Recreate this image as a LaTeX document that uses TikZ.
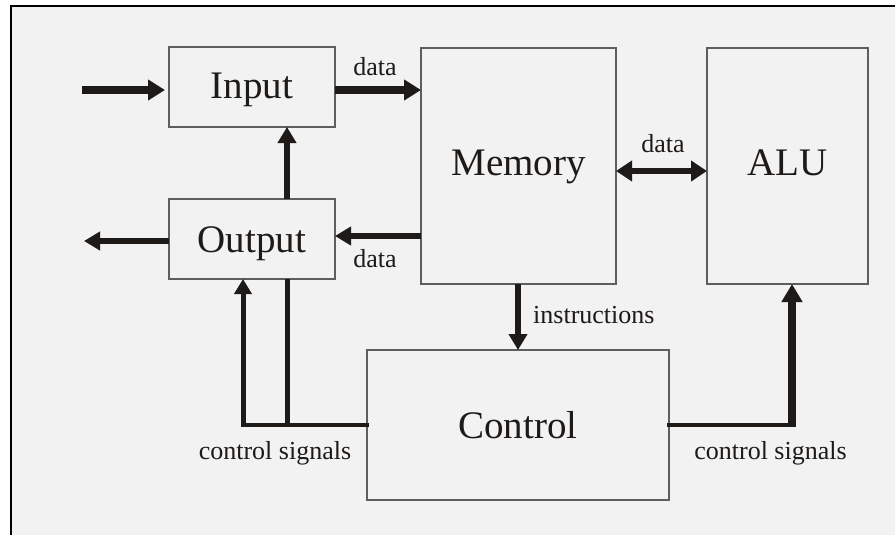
\documentclass[tikz,border=0pt]{standalone}
\usepackage{fontspec}
\setmainfont{Liberation Serif}
\usetikzlibrary{arrows.meta}
\definecolor{paper}{HTML}{F2F2F2}
\definecolor{edge}{HTML}{5E5E5E}
\definecolor{ink}{HTML}{1E1A17}
\begin{document}
\begin{tikzpicture}[x=1pt,y=-1pt,
  unit/.style={draw=edge, line width=1.6pt, fill=paper, inner sep=0pt, outer sep=0pt,
    text=ink, font=\fontsize{39}{40}\selectfont, text height=27pt, text depth=0pt},
  tag/.style={text=ink, font=\fontsize{26}{27}\selectfont, inner sep=0pt, anchor=base},
  bus/.style={draw=ink, line width=8pt, -{Triangle[length=17pt,width=20pt]}},
  flow/.style={draw=ink, line width=5.5pt, -{Triangle[length=16pt,width=18pt]}},
  wire/.style={draw=ink, line width=3.5pt},
  riser/.style={draw=ink, line width=5pt}]
\useasboundingbox (0,0) rectangle (895,535);
\fill[white] (0,0) rectangle (895,535);
\fill[paper] (11,6) rectangle (895,535);
\draw[black, line width=1.5pt] (11,535) -- (11,6) -- (895,6);

% functional units
\node[unit, minimum width=166pt, minimum height=80pt, text depth=3pt] (input) at (252,87) {Input};
\node[unit, minimum width=166pt, minimum height=80pt, text depth=1pt] (output) at (252,239) {Output};
\node[unit, minimum width=195pt, minimum height=236pt, text depth=9pt] (memory) at (518.5,166) {Memory};
\node[unit, minimum width=161pt, minimum height=236pt, text depth=9pt] (alu) at (787.5,166) {ALU};
\node[unit, minimum width=302pt, minimum height=150pt] (control) at (518,425) {Control};

% routing helpers
\coordinate (inSrc) at (82,90);
\coordinate (outDst) at (84,241);
\coordinate (xa) at (287,0);
\coordinate (xb) at (243,0);
\coordinate (xc) at (792,0);
\coordinate (ya) at (0,236);
\coordinate (yc) at (0,171);

% data paths
\draw[bus, shorten >=4pt] (inSrc) -- (inSrc -| input.west);
\draw[bus] (input.east |- inSrc) -- (memory.west |- inSrc);
\draw[flow] (output.north -| xa) -- (input.south -| xa);
\draw[flow] (memory.west |- ya) -- (output.east |- ya);
\draw[flow, line width=6pt] (output.west |- outDst) -- (outDst);
\draw[flow, {Triangle[length=16pt,width=20pt]}-{Triangle[length=16pt,width=20pt]}] (memory.east |- yc) -- (alu.west |- yc);
\draw[flow] (memory.south -| control.north) -- (control.north);

% control signals
\draw[wire, line cap=rect] (control.west) -- (control.west -| xb);
\draw[riser, shorten <=-1.75pt, -{Triangle[length=15pt,width=17pt]}] (control.west -| xb) -- (output.south -| xb);
\draw[riser, shorten <=-1.75pt] (control.west -| xa) -- (output.south -| xa);
\draw[wire, line cap=rect] (control.east) -- (control.east -| xc);
\draw[bus, shorten <=-1.75pt, -{Triangle[length=18pt,width=20pt]}] (control.east -| xc) -- (alu.south -| xc);

% labels
\node[tag] (lblInData) at (375,76) {data};
\node[tag] (lblOutData) at (375,267) {data};
\node[tag] (lblAluData) at (663,152) {data};
\node[tag, anchor=base west] (lblInstr) at (533,323) {instructions};
\node[tag] (lblCtlLeft) at (275,459) {control signals};
\node[tag] (lblCtlRight) at (770.5,459) {control signals};
\end{tikzpicture}
\end{document}
